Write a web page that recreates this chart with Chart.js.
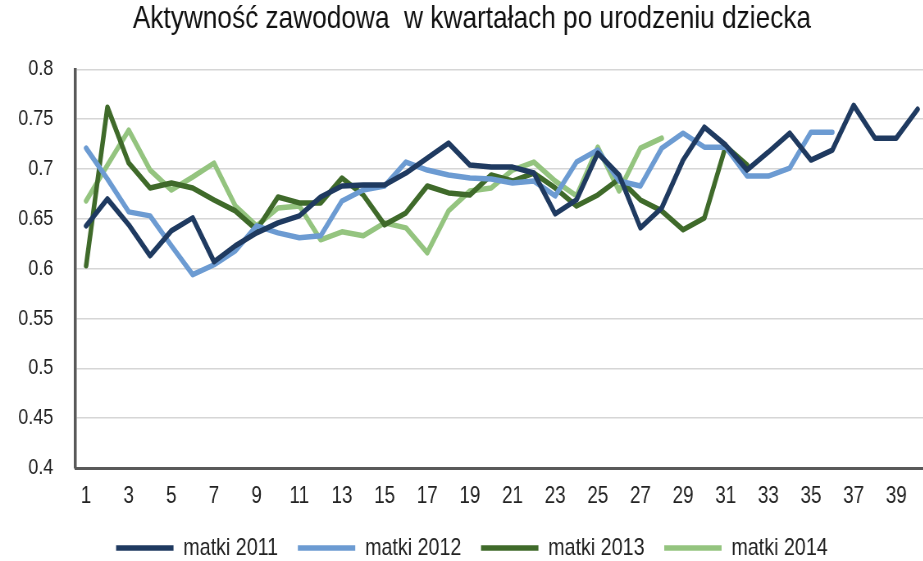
<!DOCTYPE html>
<html>
<head>
<meta charset="utf-8">
<script src="https://cdn.jsdelivr.net/npm/chart.js@4.4.1/dist/chart.umd.min.js"></script>
<style>
  html, body { margin: 0; padding: 0; background: #fff; overflow: hidden; }
  /* the original uses a narrow Arial; Liberation Sans squeezed horizontally stands in for it */
  #wrap { position: absolute; left: 0; top: 0; width: 1165px; height: 561px;
          transform: scaleX(0.82); transform-origin: 0 0; }
</style>
</head>
<body>
<div id="wrap"><canvas id="myLineChart"></canvas></div>
<script>
var labels = [];
for (var i = 1; i <= 40; i++) labels.push(String(i));

var matki2011 = [0.643, 0.670, 0.644, 0.613, 0.638, 0.651, 0.607, 0.623, 0.636, 0.646,
                 0.653, 0.672, 0.683, 0.684, 0.684, 0.696, 0.711, 0.726, 0.704, 0.702,
                 0.702, 0.696, 0.655, 0.669, 0.716, 0.694, 0.641, 0.661, 0.709, 0.742,
                 0.724, 0.699, 0.717, 0.736, 0.709, 0.719, 0.764, 0.731, 0.731, 0.760];
var matki2012 = [0.721, 0.690, 0.657, 0.653, 0.623, 0.594, 0.604, 0.618, 0.643, 0.636,
                 0.631, 0.633, 0.668, 0.679, 0.683, 0.707, 0.699, 0.694, 0.691, 0.690,
                 0.686, 0.688, 0.673, 0.707, 0.719, 0.688, 0.683, 0.721, 0.736, 0.722,
                 0.722, 0.693, 0.693, 0.701, 0.737, 0.737];
var matki2013 = [0.603, 0.762, 0.706, 0.681, 0.686, 0.681, 0.669, 0.658, 0.639, 0.672,
                 0.666, 0.666, 0.691, 0.674, 0.644, 0.656, 0.683, 0.676, 0.674, 0.694,
                 0.688, 0.696, 0.681, 0.663, 0.674, 0.690, 0.669, 0.658, 0.639, 0.651,
                 0.723, 0.704];
var matki2014 = [0.668, 0.704, 0.739, 0.699, 0.679, 0.692, 0.706, 0.663, 0.643, 0.661,
                 0.663, 0.629, 0.637, 0.633, 0.646, 0.641, 0.616, 0.658, 0.678, 0.681,
                 0.699, 0.707, 0.688, 0.673, 0.722, 0.678, 0.721, 0.731];

Chart.defaults.font.family = "'Liberation Sans', Arial, sans-serif";
Chart.defaults.color = '#222';

function line(label, data, color) {
    return {
        label: label,
        data: data,
        borderColor: color,
        backgroundColor: color,
        borderWidth: 5.5,
        borderCapStyle: 'round',
        borderJoinStyle: 'round',
        pointRadius: 0,
        tension: 0,
        fill: false
    };
}

var ctxL = document.getElementById('myLineChart').getContext('2d');
var myLineChart = new Chart(ctxL, {
    type: 'line',
    data: {
        labels: labels,
        datasets: [
            line('matki 2011', matki2011, '#1f3a60'),
            line('matki 2012', matki2012, '#6c9bd2'),
            line('matki 2013', matki2013, '#3f6a2a'),
            line('matki 2014', matki2014, '#94c47f')
        ]
    },
    options: {
        responsive: true,
        maintainAspectRatio: false,
        devicePixelRatio: 1,
        animation: false,
        layout: { padding: { left: 19, right: 33, top: 0, bottom: -9 } },
        plugins: {
            title: {
                display: true,
                text: 'Aktywność zawodowa  w kwartałach po urodzeniu dziecka',
                font: { size: 32, weight: 'normal' },
                color: '#111',
                padding: { top: 0, bottom: 31 }
            },
            legend: {
                position: 'bottom',
                labels: {
                    usePointStyle: true,
                    pointStyle: 'line',
                    pointStyleWidth: 70,
                    font: { size: 24 },
                    padding: 24
                }
            },
            tooltip: { enabled: false }
        },
        scales: {
            x: {
                offset: true,
                grid: { display: true, drawOnChartArea: false, drawTicks: false },
                border: { display: true, color: '#595959', width: 3 },
                ticks: {
                    autoSkip: false,
                    maxRotation: 0,
                    padding: 15,
                    font: { size: 23 },
                    callback: function (v, idx) { return idx % 2 === 0 ? labels[idx] : ''; }
                },
                afterFit: function (s) { s.height = 44; }
            },
            y: {
                min: 0.4,
                max: 0.8,
                grid: { color: '#d6d6d6', lineWidth: 1.5, drawTicks: false },
                border: { display: true, color: '#595959', width: 3.5 },
                ticks: {
                    stepSize: 0.05,
                    padding: 27,
                    font: { size: 22 },
                    callback: function (v) { return String(Number(v.toFixed(2))); }
                },
                afterFit: function (s) { s.width = 73; }
            }
        }
    }
});
</script>
</body>
</html>
